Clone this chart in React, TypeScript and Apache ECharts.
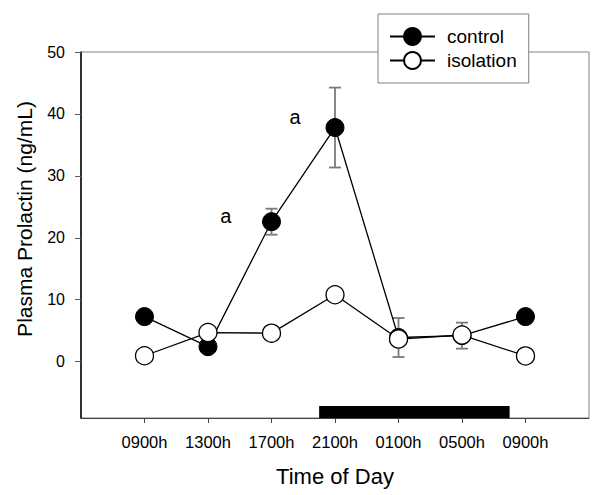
import React, { useEffect, useRef } from "react";
import * as echarts from "echarts";

const timeLabels = ["0900h", "1300h", "1700h", "2100h", "0100h", "0500h", "0900h"];
const controlMean = [7.27, 2.42, 22.6, 37.8, 3.9, 4.2, 7.27];
const controlErr = [0.5, 0.5, 2.1, 6.45, 3.15, 2.1, 0.5];
const isolationMean = [0.95, 4.7, 4.6, 10.8, 3.65, 4.3, 0.92];
const isolationErr = [0.4, 0.4, 0.4, 0.5, 0.5, 0.5, 0.4];
const darkPhase = [2.75, 5.75]; // 2000h to 0800h in 4-hour steps
const sigX = [1.28, 2.37];
const sigY = [23.5, 39.5];
const yTicks = [0, 10, 20, 30, 40, 50];

const FONT = "'Liberation Sans', Arial, sans-serif";

export default function App() {
  const ref = useRef<HTMLDivElement>(null);
  useEffect(() => {
    if (!ref.current) return;
    const chart = echarts.init(ref.current, undefined, { renderer: "svg" });
    const idx = timeLabels.map((_, i) => i);
    const errData: number[][] = [];
    idx.forEach((i) => {
      errData.push([i, controlMean[i] - controlErr[i], controlMean[i] + controlErr[i]]);
      errData.push([i, isolationMean[i] - isolationErr[i], isolationMean[i] + isolationErr[i]]);
    });
    const option: any = {
      animation: false,
      backgroundColor: "#fff",
      textStyle: { fontFamily: FONT, color: "#000" },
      grid: {
        left: 81,
        right: 11,
        top: 52,
        bottom: 77,
        show: true,
        borderColor: "#808080",
        borderWidth: 1,
        backgroundColor: "transparent",
      },
      legend: {
        data: ["control", "isolation"],
        orient: "vertical",
        left: 378,
        top: 14,
        itemWidth: 45,
        itemHeight: 21,
        itemGap: 5,
        padding: [13, 12, 13, 11],
        backgroundColor: "#fff",
        borderColor: "#808080",
        borderWidth: 1,
        borderRadius: 0,
        z: 10,
        textStyle: { fontSize: 19, fontFamily: FONT, color: "#000", padding: [0, 0, 0, 7] },
      },
      xAxis: {
        type: "value",
        min: -1,
        max: 7,
        name: "Time of Day",
        nameLocation: "middle",
        nameGap: 47,
        nameTextStyle: { fontSize: 22, fontFamily: FONT, color: "#000" },
        axisLine: { show: true, onZero: false, lineStyle: { color: "#404040", width: 1 } },
        axisTick: { show: true, inside: false, length: 5, customValues: idx, lineStyle: { color: "#404040" } },
        axisLabel: {
          show: true,
          margin: 15,
          fontSize: 16.5,
          fontFamily: FONT,
          color: "#000",
          customValues: idx,
          formatter: (v: number) => timeLabels[Math.round(v)] ?? "",
        },
        splitLine: { show: false },
      },
      yAxis: {
        type: "value",
        min: -9.1,
        max: 50,
        name: "Plasma Prolactin (ng/mL)",
        nameLocation: "middle",
        nameGap: 46,
        nameRotate: 90,
        nameTextStyle: { fontSize: 21, fontFamily: FONT, color: "#000", padding: [0, 0, 0, 32] },
        axisLine: { show: true, onZero: false, lineStyle: { color: "#000", width: 1.5 } },
        axisTick: { show: true, inside: false, length: 6, customValues: yTicks, lineStyle: { color: "#606060" } },
        axisLabel: {
          show: true,
          margin: 16,
          fontSize: 16,
          fontFamily: FONT,
          color: "#000",
          customValues: yTicks,
        },
        splitLine: { show: false },
      },
      series: [
        {
          type: "custom",
          name: "dark",
          z: 1,
          silent: true,
          data: [[darkPhase[0], darkPhase[1]]],
          renderItem: (params: any, api: any) => {
            const a = api.coord([api.value(0), -9.1]);
            const b = api.coord([api.value(1), -9.1]);
            const h = 12;
            return {
              type: "rect",
              shape: { x: a[0], y: a[1] - h, width: b[0] - a[0], height: h },
              style: { fill: "#000" },
            };
          },
        },
        {
          type: "custom",
          name: "err",
          z: 1,
          silent: true,
          data: errData,
          renderItem: (params: any, api: any) => {
            const x = api.value(0);
            const lo = api.coord([x, api.value(1)]);
            const hi = api.coord([x, api.value(2)]);
            const cw = 6;
            const st = { stroke: "#7a7a7a", lineWidth: 1.8 };
            return {
              type: "group",
              children: [
                { type: "line", shape: { x1: lo[0], y1: lo[1], x2: hi[0], y2: hi[1] }, style: st },
                { type: "line", shape: { x1: lo[0] - cw, y1: lo[1], x2: lo[0] + cw, y2: lo[1] }, style: st },
                { type: "line", shape: { x1: hi[0] - cw, y1: hi[1], x2: hi[0] + cw, y2: hi[1] }, style: st },
              ],
            };
          },
        },
        {
          type: "line",
          name: "control",
          z: 2,
          data: idx.map((i) => [i, controlMean[i]]),
          symbol: "circle",
          symbolSize: 18,
          itemStyle: { color: "#000", borderColor: "#000", borderWidth: 1 },
          lineStyle: { color: "#000", width: 1.3 },
        },
        {
          type: "line",
          name: "isolation",
          z: 2,
          data: idx.map((i) => [i, isolationMean[i]]),
          symbol: "circle",
          symbolSize: 18,
          itemStyle: { color: "#fff", borderColor: "#000", borderWidth: 1.3 },
          lineStyle: { color: "#000", width: 1.3 },
        },
        {
          type: "custom",
          name: "sig",
          z: 3,
          silent: true,
          data: sigX.map((x, i) => [x, sigY[i]]),
          renderItem: (params: any, api: any) => {
            const p = api.coord([api.value(0), api.value(1)]);
            return {
              type: "text",
              x: p[0],
              y: p[1],
              style: {
                text: "a",
                fill: "#000",
                fontSize: 20,
                fontFamily: FONT,
                align: "center",
                verticalAlign: "middle",
              },
            };
          },
        },
      ],
    };
    chart.setOption(option);
    return () => chart.dispose();
  }, []);
  return <div ref={ref} style={{ width: 600, height: 495, position: "absolute", left: 0, top: 0 }} />;
}
